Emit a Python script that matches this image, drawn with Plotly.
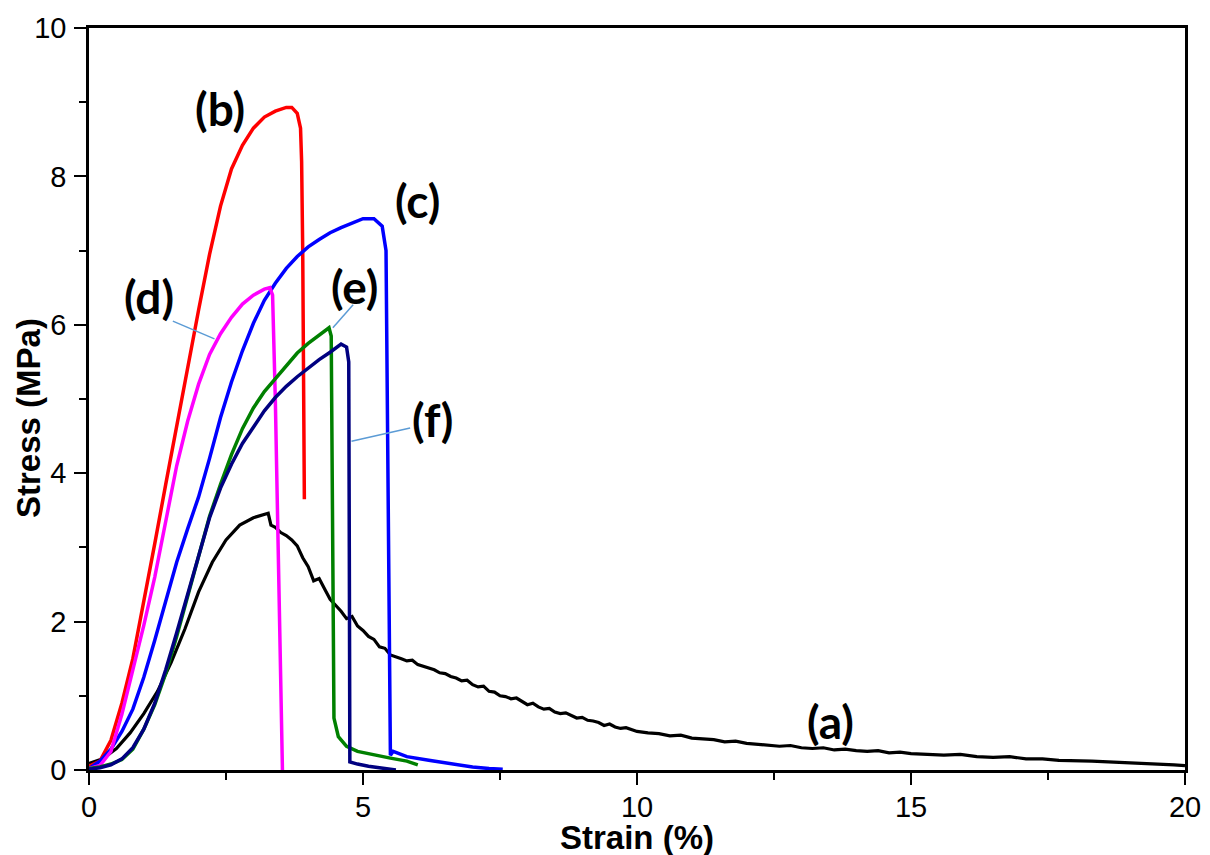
import plotly.graph_objects as go

# ---- data ----
a_x = [0, 0.25, 0.5, 0.75, 1.0, 1.25, 1.5, 1.75, 2.0, 2.25, 2.5, 2.75, 3.0, 3.1, 3.2, 3.27, 3.32, 3.4, 3.5, 3.6,
       3.7, 3.8, 3.9, 4.0, 4.1, 4.2, 4.3, 4.4, 4.5, 4.6, 4.7, 4.8, 4.9, 5.0, 5.1, 5.2, 5.3, 5.4, 5.5, 5.6,
       5.7, 5.8, 5.9, 6.0, 6.1, 6.2, 6.3, 6.4, 6.5, 6.6, 6.7, 6.8, 6.9, 7.0, 7.1, 7.2, 7.3, 7.4, 7.5, 7.6,
       7.7, 7.8, 7.9, 8.0, 8.1, 8.2, 8.3, 8.4, 8.5, 8.6, 8.7, 8.8, 8.9, 9.0, 9.1, 9.2, 9.3, 9.4, 9.5, 9.6,
       9.7, 9.8, 9.9, 10.0, 10.2, 10.4, 10.6, 10.8, 11.0, 11.2, 11.4, 11.6, 11.8, 12.0, 12.2, 12.4, 12.6,
       12.8, 13.0, 13.2, 13.4, 13.6, 13.8, 14.0, 14.2, 14.4, 14.6, 14.8, 15.0, 15.3, 15.6, 15.9, 16.2,
       16.5, 16.8, 17.1, 17.4, 17.7, 18.0, 18.3, 18.6, 18.9, 19.2, 19.5, 19.8, 20.0]
a_y = [0.09, 0.15, 0.29, 0.5, 0.76, 1.06, 1.45, 1.9, 2.4, 2.8, 3.1, 3.3, 3.4, 3.42, 3.44, 3.46, 3.3, 3.27, 3.2, 3.16,
       3.1, 3.02, 2.86, 2.74, 2.55, 2.58, 2.44, 2.3, 2.22, 2.14, 2.04, 2.07, 1.94, 1.88, 1.8, 1.76, 1.66, 1.64, 1.55, 1.53,
       1.5, 1.47, 1.48, 1.42, 1.4, 1.37, 1.35, 1.31, 1.3, 1.26, 1.24, 1.2, 1.21, 1.15, 1.12, 1.13, 1.06, 1.05, 1.0, 0.99,
       0.96, 0.97, 0.92, 0.88, 0.9, 0.85, 0.82, 0.83, 0.78, 0.76, 0.77, 0.73, 0.7, 0.71, 0.67, 0.66, 0.64, 0.6, 0.62, 0.58,
       0.56, 0.57, 0.54, 0.52, 0.5, 0.49, 0.46, 0.47, 0.43, 0.42, 0.41, 0.38, 0.39, 0.36, 0.35, 0.34, 0.32,
       0.33, 0.3, 0.29, 0.3, 0.27, 0.28, 0.26, 0.25, 0.26, 0.23, 0.24, 0.22, 0.21, 0.2, 0.21, 0.18,
       0.17, 0.18, 0.15, 0.15, 0.13, 0.13, 0.12, 0.11, 0.1, 0.1, 0.09, 0.07, 0.06]

b_x = [0, 0.2, 0.4, 0.6, 0.8, 1.0, 1.2, 1.4, 1.6, 1.8, 2.0, 2.2, 2.4, 2.6, 2.8, 3.0, 3.2, 3.4, 3.6, 3.7, 3.8, 3.86, 3.88, 3.9, 3.91, 3.93]
b_y = [0.05, 0.12, 0.4, 0.9, 1.5, 2.25, 3.05, 3.85, 4.65, 5.45, 6.2, 6.95, 7.6, 8.1, 8.42, 8.65, 8.8, 8.88, 8.93, 8.93, 8.85, 8.65, 8.2, 7.0, 5.5, 3.65]

c_x = [0, 0.2, 0.4, 0.6, 0.8, 1.0, 1.2, 1.4, 1.6, 1.8, 2.0, 2.2, 2.4, 2.6, 2.8, 3.0, 3.2, 3.4, 3.6, 3.8, 4.0, 4.2, 4.4, 4.6,
       4.8, 5.0, 5.2, 5.35, 5.42, 5.44, 5.46, 5.48, 5.5, 5.55, 5.8, 6.2, 6.6, 7.0, 7.3, 7.55]
c_y = [0.02, 0.12, 0.28, 0.52, 0.82, 1.25, 1.75, 2.27, 2.8, 3.25, 3.68, 4.2, 4.75, 5.23, 5.65, 6.02, 6.33, 6.56, 6.76, 6.92, 7.05, 7.15, 7.24, 7.31,
       7.37, 7.43, 7.43, 7.33, 7.0, 5.5, 3.5, 1.5, 0.2, 0.25, 0.18, 0.13, 0.08, 0.04, 0.02, 0.01]

d_x = [0, 0.2, 0.4, 0.6, 0.8, 1.0, 1.2, 1.4, 1.6, 1.8, 2.0, 2.2, 2.4, 2.6, 2.8, 3.0, 3.2, 3.3, 3.35, 3.4, 3.45, 3.5, 3.53]
d_y = [0.02, 0.06, 0.25, 0.75, 1.35, 1.95, 2.6, 3.35, 4.1, 4.7, 5.2, 5.6, 5.88, 6.1, 6.28, 6.4, 6.48, 6.5, 6.4, 5.0, 3.0, 1.0, 0.0]

e_x = [0, 0.2, 0.4, 0.6, 0.8, 1.0, 1.2, 1.4, 1.6, 1.8, 2.0, 2.2, 2.4, 2.6, 2.8, 3.0, 3.2, 3.4, 3.6, 3.8, 4.0, 4.2, 4.38,
       4.42, 4.43, 4.45, 4.47, 4.55, 4.7, 4.9, 5.2, 5.5, 5.8, 6.0]
e_y = [0.02, 0.04, 0.08, 0.14, 0.28, 0.55, 0.88, 1.3, 1.8, 2.35, 2.9, 3.42, 3.85, 4.25, 4.6, 4.88, 5.1, 5.27, 5.45, 5.62, 5.75, 5.86, 5.96,
       5.85, 4.5, 2.5, 0.7, 0.45, 0.32, 0.25, 0.2, 0.16, 0.12, 0.07]

f_x = [0, 0.2, 0.4, 0.6, 0.8, 1.0, 1.2, 1.4, 1.6, 1.8, 2.0, 2.2, 2.4, 2.6, 2.8, 3.0, 3.2, 3.4, 3.6, 3.8, 4.0, 4.2, 4.4, 4.6,
       4.7, 4.74, 4.75, 4.76, 4.9, 5.1, 5.4, 5.6]
f_y = [0.01, 0.03, 0.07, 0.15, 0.3, 0.55, 0.9, 1.35, 1.85, 2.38, 2.9, 3.4, 3.8, 4.12, 4.4, 4.63, 4.84, 5.02, 5.17, 5.3, 5.42, 5.53, 5.63, 5.74,
       5.7, 5.5, 3.0, 0.11, 0.08, 0.05, 0.02, 0.0]

series = [
    ("(a)", a_x, a_y, "#000000", 3.2),
    ("(b)", b_x, b_y, "#ff0000", 3.5),
    ("(c)", c_x, c_y, "#0000ff", 3.5),
    ("(d)", d_x, d_y, "#ff00ff", 3.5),
    ("(e)", e_x, e_y, "#008000", 3.5),
    ("(f)", f_x, f_y, "#000080", 3.5),
]

labels = ["(b)", "(c)", "(d)", "(e)", "(f)", "(a)"]
label_x = [2.39, 6.0, 1.1, 4.85, 6.27, 13.53]
label_y = [8.92, 7.68, 6.38, 6.52, 4.72, 0.65]

# leader lines (from, to) for d, e, f
leaders = {
    "(d)": ((1.53, 6.05), (2.29, 5.81)),
    "(e)": ((4.82, 6.27), (4.45, 5.96)),
    "(f)": ((5.86, 4.61), (4.79, 4.43)),
}

fig = go.Figure()
for name, xs, ys, col, w in series:
    fig.add_trace(go.Scatter(x=xs, y=ys, mode="lines", name=name,
                             line=dict(color=col, width=w), showlegend=False))

for k, ((x0, y0), (x1, y1)) in leaders.items():
    fig.add_trace(go.Scatter(x=[x0, x1], y=[y0, y1], mode="lines",
                             line=dict(color="#5b9bd5", width=1.5), showlegend=False, hoverinfo="skip"))

for t, lx, ly in zip(labels, label_x, label_y):
    fig.add_annotation(x=lx, y=ly, text="<b>" + t + "</b>", showarrow=False,
                       xanchor="center", yanchor="middle",
                       font=dict(family="Lato, Open Sans, sans-serif", size=46, color="black"))

fig.add_annotation(xref="paper", yref="paper", x=0.5, y=0, yshift=-67, xanchor="center", yanchor="middle",
                   text="<b>Strain (%)</b>", showarrow=False,
                   font=dict(family="Liberation Sans, Arial", size=33, color="black"))
fig.add_annotation(xref="paper", yref="paper", x=0, xshift=-61, y=0.5, yshift=-19,
                   xanchor="center", yanchor="middle", text="<b>Stress (MPa)</b>",
                   textangle=-90, showarrow=False,
                   font=dict(family="Liberation Sans, Arial", size=33, color="black"))

axis_common = dict(showline=True, linecolor="black", linewidth=2.5, mirror=True, showgrid=False,
                   zeroline=False, ticks="outside", ticklen=12, tickwidth=2, tickcolor="black",
                   automargin=False,
                   tickfont=dict(family="Liberation Sans, Arial", size=29, color="black"))

fig.update_xaxes(range=[0, 20], tick0=0, dtick=5, ticklabelstandoff=-3,
                 minor=dict(ticks="outside", ticklen=7, tickwidth=2, tickcolor="black", dtick=2.5),
                 **axis_common)
fig.update_yaxes(range=[0, 10], tick0=0, dtick=2, ticklabelstandoff=2,
                 minor=dict(ticks="outside", ticklen=7, tickwidth=2, tickcolor="black", dtick=1),
                 **axis_common)

fig.update_layout(width=1202, height=847, margin=dict(l=81, r=25, t=20, b=85),
                  plot_bgcolor="white", paper_bgcolor="white")

fig.write_html("out.html")
